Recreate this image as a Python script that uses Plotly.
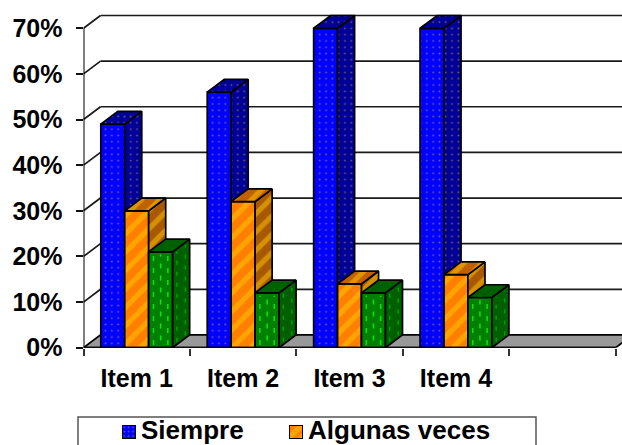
import plotly.graph_objects as go

categories = ["Item 1", "Item 2", "Item 3", "Item 4"]
siempre = [49, 56, 70, 70]
algunas_veces = [30, 32, 14, 16]
tercera_serie = [21, 12, 12, 11]
y_ticks = [0, 10, 20, 30, 40, 50, 60, 70]
y_labels = ["0%", "10%", "20%", "30%", "40%", "50%", "60%", "70%"]

W, H = 622, 445
X0, X1 = -0.5, 4.56
Y_TOP = 76.2
DEPTH_X = 0.16   # horizontal share of the 3D depth, in category units
DEPTH_Y = 2.8    # vertical share of the 3D depth, in percent
BAR_W = 0.225
EDGE = dict(color="#000000", width=1.7)
FONT = dict(family="Liberation Sans, Arial, sans-serif", size=25, color="#000000", weight=700)
LEGEND_FONT = dict(FONT, size=26)

BLUE = dict(front="#0000ff", side="#000099", top="#000099", fg="#e8c040", shape=".", size=6.3, sol=0.07)
ORANGE = dict(front="#ff8000", side="#a85800", top="#c06000", fg="#ffc800", shape="/", size=13, sol=0.4)
GREEN = dict(front="#008000", side="#006000", top="#006000", fg="#00e000", shape="", size=8, sol=0.1)

fig = go.Figure()


def polygon(xs, ys, fill, pattern=None, line=EDGE):
    fig.add_trace(go.Scatter(
        x=xs + xs[:1], y=ys + ys[:1], mode="lines", fill="toself", fillcolor=fill,
        fillpattern=pattern, line=line, hoverinfo="skip", showlegend=False, cliponaxis=False,
    ))


def segment(xs, ys, color="#1a1a1a", width=1.7, dash=None):
    fig.add_trace(go.Scatter(
        x=xs, y=ys, mode="lines", line=dict(color=color, width=width, dash=dash),
        hoverinfo="skip", showlegend=False, cliponaxis=False,
    ))


def pattern_of(style, bg):
    if not style["shape"]:
        return None
    return dict(shape=style["shape"], bgcolor=bg, fgcolor=style["fg"],
                size=style["size"], solidity=style["sol"], fillmode="overlay")


def bar3d(left, value, style):
    right = left + BAR_W
    polygon([left, right, right, left], [0, 0, value, value], style["front"], pattern_of(style, style["front"]))
    polygon([right, right + DEPTH_X, right + DEPTH_X, right],
            [0, DEPTH_Y, value + DEPTH_Y, value], style["side"], pattern_of(style, style["side"]))
    polygon([left, right, right + DEPTH_X, left + DEPTH_X],
            [value, value, value + DEPTH_Y, value + DEPTH_Y], style["top"], pattern_of(style, style["top"]))
    if style is GREEN:
        # Short vertical dashes that give this series its texture
        for k, frac in enumerate((0.2, 0.5, 0.8)):
            segment([left + BAR_W * frac] * 2, [0.6 + k % 2, value - 0.6], "#10e010", 1.5, "5px,7px")
        for k, frac in enumerate((0.25, 0.75)):
            segment([right + DEPTH_X * frac] * 2, [DEPTH_Y * frac + 0.6, value + DEPTH_Y * frac - 0.6],
                    "#00a000", 1.5, "4px,7px")


# Floor, side wall and back wall of the 3D box
polygon([X0, 4.5, 4.5 + DEPTH_X, X0 + DEPTH_X], [0, 0, DEPTH_Y, DEPTH_Y], "#999999")
for tick in y_ticks:
    if tick:
        segment([X0 + DEPTH_X, X1 + 1], [tick + DEPTH_Y] * 2)
        segment([X0, X0 + DEPTH_X], [tick, tick + DEPTH_Y])
segment([X0, X0], [0, y_ticks[-1]], "#000000", 2)

# Each column is painted left to right so nearer faces cover farther ones
for i, (a, b, c) in enumerate(zip(siempre, algunas_veces, tercera_serie)):
    for j, (value, style) in enumerate(((a, BLUE), (b, ORANGE), (c, GREEN))):
        bar3d(i + (j - 1.5) * BAR_W, value, style)
segment([X0, 4.5], [0, 0], "#000000", 2)

# Legend keys, each in a tiny axis pair of its own
keys = [("x2", "y2", 122, BLUE, "Siempre"), ("x3", "y3", 289, ORANGE, "Algunas veces")]
for xa, ya, _, style, _ in keys:
    fig.add_trace(go.Bar(
        x=[0], y=[1], width=[1], xaxis=xa, yaxis=ya, showlegend=False, hoverinfo="skip", cliponaxis=False,
        marker=dict(color=style["front"], line=dict(color="#000000", width=2), pattern=dict(
            shape=style["shape"], bgcolor=style["front"], fgcolor=style["fg"],
            size=style["size"] * 0.7, solidity=style["sol"] * 1.5, fillmode="overlay")),
    ))

hidden = dict(visible=False, fixedrange=True)
layout_keys = {}
for n, (_, _, px, _, _) in zip((2, 3), keys):
    layout_keys[f"xaxis{n}"] = dict(hidden, domain=[px / W, (px + 14) / W], range=[-0.5, 0.5], anchor=f"y{n}")
    layout_keys[f"yaxis{n}"] = dict(hidden, domain=[1 - 439 / H, 1 - 425 / H], range=[0, 1], anchor=f"x{n}")

fig.update_layout(
    width=W, height=H, margin=dict(l=0, r=0, t=0, b=0, autoexpand=False), autosize=False,
    paper_bgcolor="#ffffff", plot_bgcolor="rgba(0,0,0,0)", font=FONT, showlegend=False,
    xaxis=dict(
        domain=[83.5 / W, 1], range=[X0, X1], zeroline=False, showgrid=False, showline=False, fixedrange=True,
        tickmode="array", tickvals=list(range(len(categories))), ticktext=categories,
        ticks="", ticklabelstandoff=13, tickfont=FONT,
        minor=dict(tickmode="array", tickvals=[i - 0.5 for i in range(6)], ticks="outside",
                   ticklen=7, tickwidth=1.5, tickcolor="#333333", showgrid=False),
    ),
    yaxis=dict(
        domain=[1 - 347.7 / H, 1], range=[0, Y_TOP], zeroline=False, showgrid=False, showline=False, fixedrange=True,
        tickmode="array", tickvals=y_ticks, ticktext=y_labels, ticks="outside", ticklen=7, tickwidth=1.5,
        tickcolor="#111111", ticklabelstandoff=8, tickfont=FONT,
    ),
    shapes=[dict(type="rect", xref="paper", yref="paper", x0=78 / W, x1=536 / W, y0=-0.2, y1=1 - 417 / H,
                 line=dict(color="#555555", width=1.5), fillcolor="#ffffff", layer="below")],
    annotations=[
        dict(text=label, xref=xa, yref=ya, x=0.5, y=0.5, xanchor="left", yanchor="middle",
             showarrow=False, font=LEGEND_FONT, xshift=4, yshift=2, borderpad=0)
        for xa, ya, _, _, label in keys
    ],
    **layout_keys,
)

fig.write_html("out.html")
